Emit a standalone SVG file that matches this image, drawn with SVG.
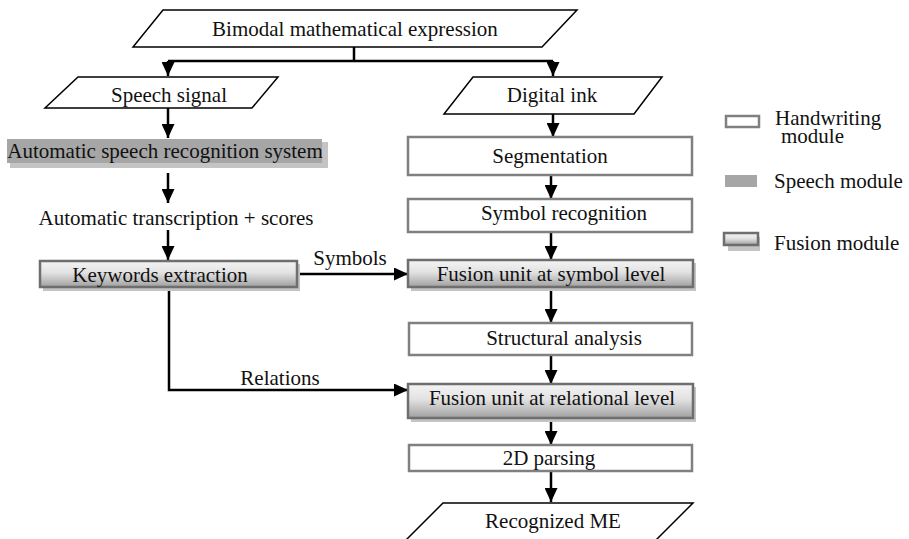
<svg xmlns="http://www.w3.org/2000/svg" width="909" height="539" viewBox="0 0 909 539">
<style>
text{font-family:"Liberation Serif","Times New Roman",Times,"DejaVu Serif",serif;font-size:21px;fill:#111}
.io{fill:#fff;stroke:#000;stroke-width:1.5}
.hw{fill:#fff;stroke:#808080;stroke-width:2.5}
.sp{fill:#a6a6a6}
.fu{fill:url(#grad);stroke:#6e6e6e;stroke-width:2.5}
.sh{fill:#c4c4c4}
.c{fill:none;stroke:#000;stroke-width:2.5}
.m{text-anchor:middle}
</style>
<defs>
<linearGradient id="grad" x1="0" y1="0" x2="0" y2="1">
<stop offset="0" stop-color="#f4f4f4"/>
<stop offset="0.45" stop-color="#e2e2e2"/>
<stop offset="1" stop-color="#a0a0a0"/>
</linearGradient>
<marker id="ah" markerWidth="14" markerHeight="13" refX="14" refY="6.5" orient="auto" markerUnits="userSpaceOnUse">
<path d="M0,0 L14,6.5 L0,13 Z" fill="#000"/>
</marker>
</defs>

<g id="connectors">
<path class="c" d="M354,47 V61"/>
<path class="c" d="M168,61 H553"/>
<path class="c" d="M168,61 V76" marker-end="url(#ah)"/>
<path class="c" d="M553,61 V76" marker-end="url(#ah)"/>
<path class="c" d="M168,108 V138" marker-end="url(#ah)"/>
<path class="c" d="M553,114 V137" marker-end="url(#ah)"/>
<path class="c" d="M168,173 V203" marker-end="url(#ah)"/>
<path class="c" d="M168,230 V260" marker-end="url(#ah)"/>
<path class="c" d="M551,175 V199" marker-end="url(#ah)"/>
<path class="c" d="M551,232 V260" marker-end="url(#ah)"/>
<path class="c" d="M551,288 V323" marker-end="url(#ah)"/>
<path class="c" d="M551,355 V384" marker-end="url(#ah)"/>
<path class="c" d="M551,418 V445" marker-end="url(#ah)"/>
<path class="c" d="M551,471 V502" marker-end="url(#ah)"/>
<path class="c" d="M297,274 H408" marker-end="url(#ah)"/>
<path class="c" d="M169,287 V390 H408" marker-end="url(#ah)"/>
<text x="350" y="265" class="m">Symbols</text>
<text x="280" y="385" class="m">Relations</text>
<text x="176" y="225" class="m">Automatic transcription + scores</text>
</g>

<g id="bimodal">
<polygon class="io" points="163,10 577,10 542,47 133,47"/>
<text x="355" y="36" class="m">Bimodal mathematical expression</text>
</g>
<g id="speech-signal">
<polygon class="io" points="78,77 278,77 252,108 45,108"/>
<text x="169" y="102" class="m">Speech signal</text>
</g>
<g id="digital-ink">
<polygon class="io" points="473,77 662,77 634,114 444,114"/>
<text x="552" y="102" class="m">Digital ink</text>
</g>
<g id="asr">
<rect class="sh" x="10" y="142" width="318" height="26"/>
<rect class="sp" x="7" y="139" width="315" height="24"/>
<text x="165" y="158" class="m">Automatic speech recognition system</text>
</g>
<g id="keywords">
<rect class="sh" x="43" y="264" width="257" height="27"/>
<rect class="fu" x="40" y="261" width="257" height="26"/>
<text x="160" y="282" class="m">Keywords extraction</text>
</g>
<g id="segmentation">
<rect class="hw" x="408" y="137" width="284" height="38"/>
<text x="550" y="163" class="m">Segmentation</text>
</g>
<g id="symbol-recognition">
<rect class="hw" x="408" y="199" width="284" height="33"/>
<text x="564" y="220" class="m">Symbol recognition</text>
</g>
<g id="fusion-symbol">
<rect class="sh" x="411" y="263" width="285" height="28"/>
<rect class="fu" x="408" y="260" width="285" height="27"/>
<text x="551" y="281" class="m">Fusion unit at symbol level</text>
</g>
<g id="structural">
<rect class="hw" x="409" y="323" width="283" height="32"/>
<text x="564" y="345" class="m">Structural analysis</text>
</g>
<g id="fusion-relational">
<rect class="sh" x="411" y="387" width="285" height="35"/>
<rect class="fu" x="408" y="384" width="285" height="34"/>
<text x="552" y="405" class="m">Fusion unit at relational level</text>
</g>
<g id="parsing">
<rect class="hw" x="409" y="445" width="283" height="26"/>
<text x="549" y="465" class="m">2D parsing</text>
</g>
<g id="recognized">
<polygon class="io" points="443,503 693,503 651,545 401,545"/>
<text x="553" y="528" class="m">Recognized ME</text>
</g>

<g id="legend-handwriting">
<rect class="hw" x="726" y="116" width="33" height="11"/>
<text><tspan x="775" y="125">Handwriting</tspan><tspan x="781" y="143">module</tspan></text>
</g>
<g id="legend-speech">
<rect class="sp" x="725" y="175" width="32" height="12"/>
<text x="774" y="188">Speech module</text>
</g>
<g id="legend-fusion">
<rect class="sh" x="728" y="237" width="32" height="14"/>
<rect class="fu" x="724" y="233" width="34" height="12"/>
<text x="774" y="250">Fusion module</text>
</g>
</svg>
